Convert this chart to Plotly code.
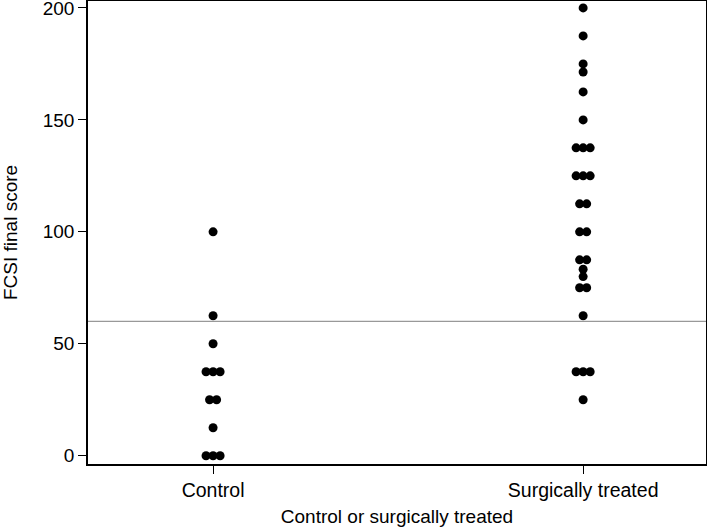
import plotly.graph_objects as go
from collections import Counter

groups = ["Control", "Surgically treated"]
control_scores = [100, 62.5, 50, 37.5, 37.5, 37.5, 25, 25, 12.5, 0, 0, 0]
surgical_scores = [200, 187.5, 175, 171.4, 162.5, 150,
                   137.5, 137.5, 137.5, 125, 125, 125, 112.5, 112.5,
                   100, 100, 87.5, 87.5, 83.3, 80, 75, 75, 62.5,
                   37.5, 37.5, 37.5, 25]
cutoff = 60
y_ticks = [0, 50, 100, 150, 200]


def stack(values, center, step=0.019):
    # spread equal values side by side around the group position
    counts = Counter(values)
    seen = Counter()
    xs = []
    for v in values:
        n = counts[v]
        xs.append(center + (seen[v] - (n - 1) / 2) * step)
        seen[v] += 1
    return xs


fig = go.Figure()
for i, scores in enumerate([control_scores, surgical_scores]):
    fig.add_trace(go.Scatter(
        x=stack(scores, i), y=scores, mode="markers",
        marker=dict(color="black", size=9),
        showlegend=False,
    ))

fig.add_hline(y=cutoff, line=dict(color="#999999", width=1.2))

font = "Liberation Sans, Arial, Helvetica, sans-serif"
fig.update_layout(
    width=707, height=530,
    margin=dict(l=88, r=1, t=1, b=66),
    plot_bgcolor="white", paper_bgcolor="white",
    font=dict(family=font, size=19, color="black"),
)
fig.update_xaxes(
    range=[-0.338, 1.332], tickvals=[0, 1], ticktext=groups,
    tickfont=dict(size=19.5), automargin=False, ticklabeloverflow="allow",
    ticks="outside", ticklen=8, tickcolor="black", showgrid=False, zeroline=False,
    showline=True, linecolor="black", linewidth=1.5, mirror=True,
    title=dict(text="Control or surgically treated", standoff=10, font=dict(size=19)),
)
fig.update_yaxes(
    range=[-3.7, 203.1], tickvals=y_ticks,
    tickfont=dict(size=19), automargin=False, ticklabeloverflow="allow",
    ticks="outside", ticklen=8, tickcolor="black", showgrid=False, zeroline=False,
    showline=True, linecolor="black", linewidth=1.5, mirror=True,
    title=dict(text="FCSI final score", standoff=20, font=dict(size=19)),
)

# drop the page's default body margin so the figure sits at the window's corner
fig.write_html("out.html", config={"displayModeBar": False},
               post_script="document.body.style.margin='0';")
